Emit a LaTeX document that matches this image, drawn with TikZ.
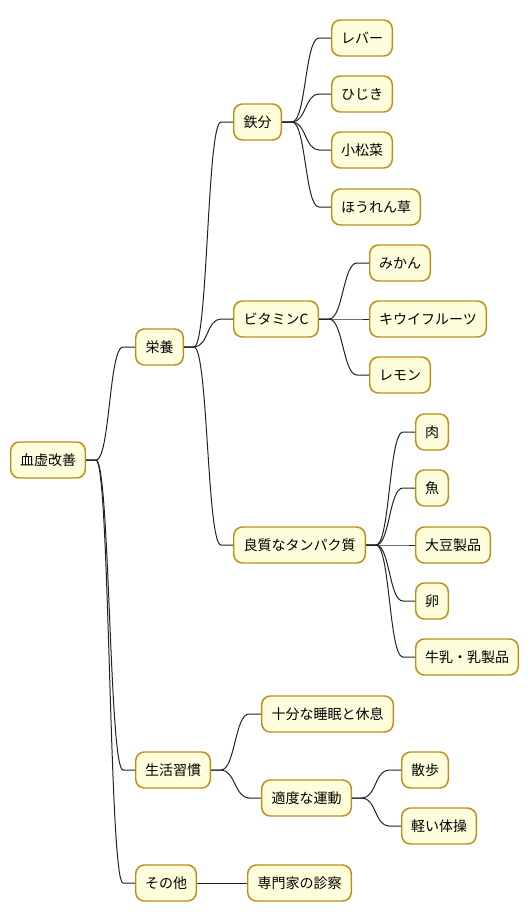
\documentclass[tikz,border=0pt]{standalone}
\usepackage{fontspec}
\setmainfont{Noto Sans CJK JP}
\definecolor{boxfill}{HTML}{FEFEDC}
\definecolor{boxline}{HTML}{BE8D1A}
\definecolor{lnk}{HTML}{222222}
\newcommand\link[2]{\draw[conn] (#1.east) -- ++(10,0) .. controls +(14,0) and +(-14,0) .. ([xshift=-9pt]#2.west) -- (#2.west);}
\begin{document}
\begin{tikzpicture}[x=0.75pt,y=-0.75pt,
  box/.style={draw=boxline, fill=boxfill, line width=1.1pt, rounded corners=6.5pt,
    anchor=west, minimum height=27pt, inner xsep=0pt, inner ysep=0pt,
    minimum width=#1*0.75pt-1.1pt, font=\fontsize{10.5pt}{12pt}\selectfont},
  conn/.style={draw=lnk, line width=0.75pt}]
\useasboundingbox (0,0) rectangle (530,921);
\node[box=76] (root) at (10,460) {血虚改善};
\node[box=49] (eiyou) at (135,347) {栄養};
\node[box=76] (seikatsu) at (135,770) {生活習慣};
\node[box=62] (sonota) at (135,883) {その他};
\node[box=49] (tetsu) at (233,122) {鉄分};
\node[box=86] (vitc) at (233,319) {ビタミンC};
\node[box=133] (tanpaku) at (233,545) {良質なタンパク質};
\node[box=133] (suimin) at (261,714) {十分な睡眠と休息};
\node[box=91] (undou) at (261,798) {適度な運動};
\node[box=105] (senmon) at (247,883) {専門家の診察};
\node[box=62] (reba) at (331,38) {レバー};
\node[box=62] (hijiki) at (331,94) {ひじき};
\node[box=62] (komatsuna) at (331,150) {小松菜};
\node[box=90] (hourensou) at (331,207) {ほうれん草};
\node[box=62] (mikan) at (369,263) {みかん};
\node[box=118] (kiwi) at (369,319) {キウイフルーツ};
\node[box=62] (lemon) at (369,375) {レモン};
\node[box=34] (niku) at (415,432) {肉};
\node[box=34] (sakana) at (415,488) {魚};
\node[box=76] (daizu) at (415,545) {大豆製品};
\node[box=34] (tamago) at (415,601) {卵};
\node[box=104] (gyunyu) at (415,657) {牛乳・乳製品};
\node[box=48] (sanpo) at (401,770) {散歩};
\node[box=76] (taisou) at (401,826) {軽い体操};
\link{root}{eiyou}
\link{root}{seikatsu}
\link{root}{sonota}
\link{eiyou}{tetsu}
\link{eiyou}{vitc}
\link{eiyou}{tanpaku}
\link{tetsu}{reba}
\link{tetsu}{hijiki}
\link{tetsu}{komatsuna}
\link{tetsu}{hourensou}
\link{vitc}{mikan}
\link{vitc}{kiwi}
\link{vitc}{lemon}
\link{tanpaku}{niku}
\link{tanpaku}{sakana}
\link{tanpaku}{daizu}
\link{tanpaku}{tamago}
\link{tanpaku}{gyunyu}
\link{seikatsu}{suimin}
\link{seikatsu}{undou}
\link{undou}{sanpo}
\link{undou}{taisou}
\link{sonota}{senmon}
\end{tikzpicture}
\end{document}
